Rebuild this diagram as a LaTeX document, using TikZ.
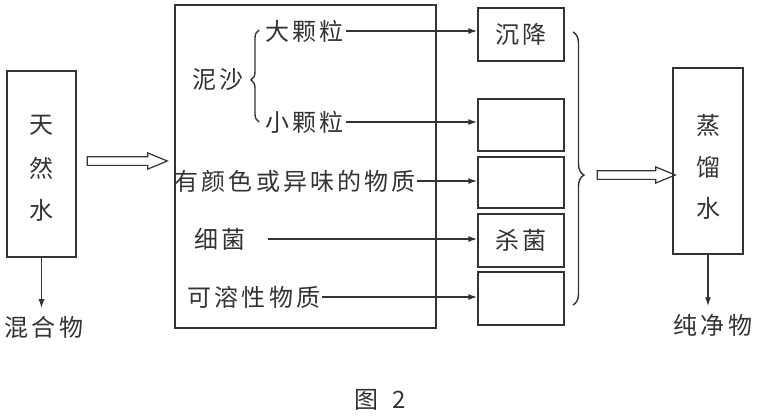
\documentclass[tikz,border=0pt]{standalone}
\usepackage{fontspec}
\newfontfamily\cjk[LetterSpace=13]{Noto Sans CJK SC}
\usetikzlibrary{arrows.meta,shapes.arrows,decorations.pathreplacing}
\definecolor{ink}{gray}{0.2}
\begin{document}
\begin{tikzpicture}[x=1pt,y=-1pt,line width=1.4pt,
  every node/.style={inner sep=1pt,text=ink},
  font=\cjk\fontsize{24}{28}\selectfont,
  pbox/.style={draw=ink,line width=1.4pt,inner sep=0pt},
  tallbox/.style={pbox,minimum width=69pt,minimum height=186pt},
  sbox/.style={pbox,minimum width=86pt,minimum height=#1},
  arr/.style={draw=ink,line width=1.4pt,-{Latex[length=9pt,width=6pt]}},
  hollow/.style={single arrow,draw=ink,line width=1.2pt,inner xsep=0pt,inner ysep=3.75pt,
    single arrow head extend=3.75pt,single arrow tip angle=45,minimum height=#1},
  brc/.style={draw=ink,line width=1.4pt,decorate,decoration={brace,amplitude=#1}}
]
\useasboundingbox (0,0) rectangle (757,416);
% left tall box
\node[tallbox] (nat) at (41.5,164) {};
\node (n1) at (41.5,125) {天};
\node (n2) at (41.5,168) {然};
\node (n3) at (41.5,210) {水};
\node (mix) at (44,327) {混合物};
\draw[arr,shorten >=6pt] (nat.south) -- (nat.south |- mix.north);
% big box
\node[pbox,minimum width=261pt,minimum height=323pt] (big) at (305.5,166.5) {};
\node[hollow=80pt] (ha) at (122,161) {};
% left texts
\node (ns) at (218,80) {泥沙};
\node[anchor=west] (dk) at (264,31) {大颗粒};
\node[anchor=west] (xk) at (264,122) {小颗粒};
\node[anchor=west] (ys) at (173,181) {有颜色或异味的物质};
\node[anchor=west] (xj) at (193,239) {细菌};
\node[anchor=west] (kr) at (186,297) {可溶性物质};
\coordinate (lb1) at (259,122);
\coordinate (lb2) at (259,30);
\draw[brc=8pt,decoration={aspect=0.457}] (lb1) -- (lb2);
% right small boxes
\node[sbox=53pt] (b1) at (521,34.5) {沉降};
\node[sbox=52pt] (b2) at (521,125) {};
\node[sbox=51pt] (b3) at (521,182.5) {};
\node[sbox=53pt] (b4) at (521,240.5) {杀菌};
\node[sbox=53pt] (b5) at (521,298.5) {};
\draw[arr] (dk.east) -- (dk.east -| b1.west);
\draw[arr] (xk.east) -- (xk.east -| b2.west);
\draw[arr] (ys.east) -- (ys.east -| b3.west);
\draw[arr,shorten <=20pt] (xj.east) -- (xj.east -| b4.west);
\draw[arr] (kr.east) -- (kr.east -| b5.west);
% right brace
\coordinate (rb1) at (573,32);
\coordinate (rb2) at (573,305);
\draw[brc=11pt,decoration={aspect=0.524}] (rb1) -- (rb2);
\node[hollow=78pt] (hb) at (631,175) {};
% right tall box
\node[pbox,minimum width=70pt,minimum height=186pt] (dw) at (708,161) {};
\node (d1) at (708,125) {蒸};
\node (d2) at (708,167) {馏};
\node (d3) at (708,208) {水};
\node (pure) at (713,325) {纯净物};
\draw[arr,shorten >=6pt] (dw.south) -- (dw.south |- pure.north);
% caption
\node (cap) at (380,400) {图\hspace{0.6em}2};
\end{tikzpicture}
\end{document}
